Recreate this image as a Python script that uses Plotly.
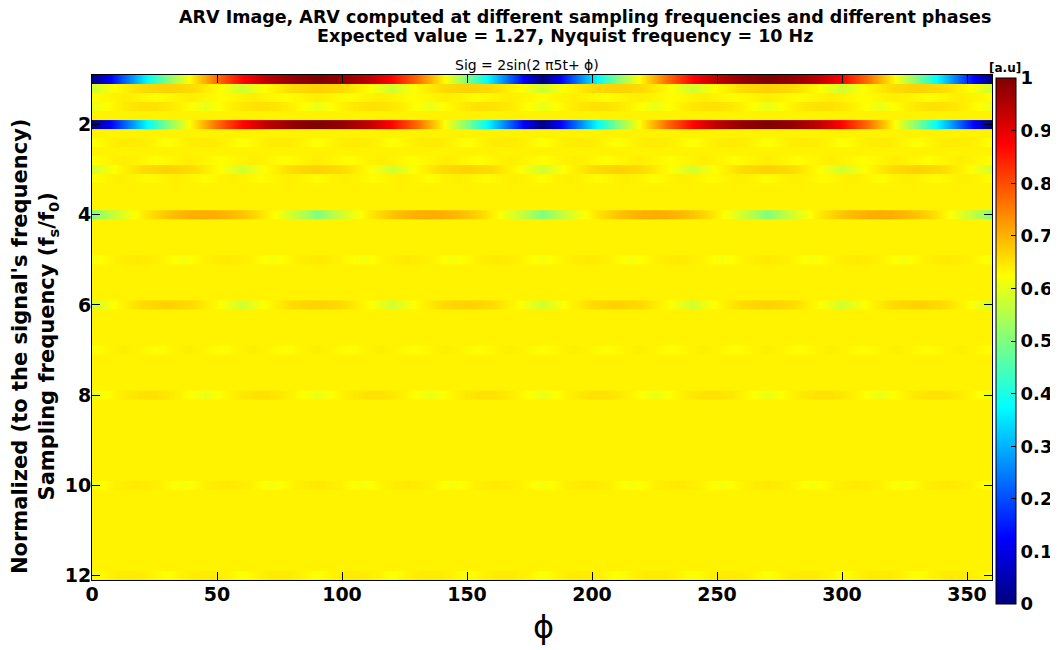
import plotly.graph_objects as go

# ---------------- data ----------------
background = 0.637  # uniform yellow level between the stripes

phase_5 = list(range(0, 361, 5))
phase_9 = list(range(0, 361, 9))
phase_10 = list(range(0, 361, 10))
phase_p257 = [0, 12.9, 25.7, 38.6, 51.4, 64.3, 77.1, 90, 102.9, 115.7, 128.6, 141.4,
              154.3, 167.1, 180, 192.9, 205.7, 218.6, 231.4, 244.3, 257.1, 270, 282.9,
              295.7, 308.6, 321.4, 334.3, 347.1, 360]
phase_p225 = [0, 11.25, 22.5, 33.75, 45, 56.25, 67.5, 78.75, 90, 101.25, 112.5, 123.75,
              135, 146.25, 157.5, 168.75, 180, 191.25, 202.5, 213.75, 225, 236.25, 247.5,
              258.75, 270, 281.25, 292.5, 303.75, 315, 326.25, 337.5, 348.75, 360]

row_1 = [0.00, 0.17, 0.34, 0.50, 0.64, 0.77, 0.87, 0.94, 0.98, 1.00, 0.98, 0.94, 0.87,
         0.77, 0.64, 0.50, 0.34, 0.17, 0.00, 0.17, 0.34, 0.50, 0.64, 0.77, 0.87, 0.94,
         0.98, 1.00, 0.98, 0.94, 0.87, 0.77, 0.64, 0.50, 0.34, 0.17, 0.00]
row_2 = [0.00, 0.17, 0.34, 0.50, 0.64, 0.77, 0.87, 0.94, 0.98, 1.00, 0.98, 0.94, 0.87,
         0.77, 0.64, 0.50, 0.34, 0.17, 0.00, 0.17, 0.34, 0.50, 0.64, 0.77, 0.87, 0.94,
         0.98, 1.00, 0.98, 0.94, 0.87, 0.77, 0.64, 0.50, 0.34, 0.17, 0.00]
row_1_2 = [0.58, 0.63, 0.66, 0.67, 0.66, 0.63,
           0.58, 0.63, 0.66, 0.67, 0.66, 0.63,
           0.58, 0.63, 0.66, 0.67, 0.66, 0.63,
           0.58, 0.63, 0.66, 0.67, 0.66, 0.63,
           0.58, 0.63, 0.66, 0.67, 0.66, 0.63,
           0.58, 0.63, 0.66, 0.67, 0.66, 0.63,
           0.58]
row_3 = [0.58, 0.63, 0.66, 0.67, 0.66, 0.63,
         0.58, 0.63, 0.66, 0.67, 0.66, 0.63,
         0.58, 0.63, 0.66, 0.67, 0.66, 0.63,
         0.58, 0.63, 0.66, 0.67, 0.66, 0.63,
         0.58, 0.63, 0.66, 0.67, 0.66, 0.63,
         0.58, 0.63, 0.66, 0.67, 0.66, 0.63,
         0.58]
row_6 = [0.58, 0.63, 0.66, 0.67, 0.66, 0.63,
         0.58, 0.63, 0.66, 0.67, 0.66, 0.63,
         0.58, 0.63, 0.66, 0.67, 0.66, 0.63,
         0.58, 0.63, 0.66, 0.67, 0.66, 0.63,
         0.58, 0.63, 0.66, 0.67, 0.66, 0.63,
         0.58, 0.63, 0.66, 0.67, 0.66, 0.63,
         0.58]
row_4 = [0.500, 0.542, 0.579, 0.612, 0.641, 0.664, 0.683, 0.696, 0.704,
         0.707, 0.704, 0.696, 0.683, 0.664, 0.641, 0.612, 0.579, 0.542,
         0.500, 0.542, 0.579, 0.612, 0.641, 0.664, 0.683, 0.696, 0.704,
         0.707, 0.704, 0.696, 0.683, 0.664, 0.641, 0.612, 0.579, 0.542,
         0.500, 0.542, 0.579, 0.612, 0.641, 0.664, 0.683, 0.696, 0.704,
         0.707, 0.704, 0.696, 0.683, 0.664, 0.641, 0.612, 0.579, 0.542,
         0.500, 0.542, 0.579, 0.612, 0.641, 0.664, 0.683, 0.696, 0.704,
         0.707, 0.704, 0.696, 0.683, 0.664, 0.641, 0.612, 0.579, 0.542,
         0.500]
row_1_6 = [0.604, 0.623, 0.638, 0.648, 0.653, 0.653, 0.648, 0.638, 0.623,
           0.604, 0.623, 0.638, 0.648, 0.653, 0.653, 0.648, 0.638, 0.623,
           0.604, 0.623, 0.638, 0.648, 0.653, 0.653, 0.648, 0.638, 0.623,
           0.604, 0.623, 0.638, 0.648, 0.653, 0.653, 0.648, 0.638, 0.623,
           0.604, 0.623, 0.638, 0.648, 0.653, 0.653, 0.648, 0.638, 0.623,
           0.604, 0.623, 0.638, 0.648, 0.653, 0.653, 0.648, 0.638, 0.623,
           0.604, 0.623, 0.638, 0.648, 0.653, 0.653, 0.648, 0.638, 0.623,
           0.604, 0.623, 0.638, 0.648, 0.653, 0.653, 0.648, 0.638, 0.623,
           0.604]
row_8 = [0.604, 0.623, 0.638, 0.648, 0.653, 0.653, 0.648, 0.638, 0.623,
         0.604, 0.623, 0.638, 0.648, 0.653, 0.653, 0.648, 0.638, 0.623,
         0.604, 0.623, 0.638, 0.648, 0.653, 0.653, 0.648, 0.638, 0.623,
         0.604, 0.623, 0.638, 0.648, 0.653, 0.653, 0.648, 0.638, 0.623,
         0.604, 0.623, 0.638, 0.648, 0.653, 0.653, 0.648, 0.638, 0.623,
         0.604, 0.623, 0.638, 0.648, 0.653, 0.653, 0.648, 0.638, 0.623,
         0.604, 0.623, 0.638, 0.648, 0.653, 0.653, 0.648, 0.638, 0.623,
         0.604, 0.623, 0.638, 0.648, 0.653, 0.653, 0.648, 0.638, 0.623,
         0.604]
row_2_4 = [0.622, 0.634, 0.642, 0.644, 0.642, 0.634,
           0.622, 0.634, 0.642, 0.644, 0.642, 0.634,
           0.622, 0.634, 0.642, 0.644, 0.642, 0.634,
           0.622, 0.634, 0.642, 0.644, 0.642, 0.634,
           0.622, 0.634, 0.642, 0.644, 0.642, 0.634,
           0.622, 0.634, 0.642, 0.644, 0.642, 0.634,
           0.622, 0.634, 0.642, 0.644, 0.642, 0.634,
           0.622, 0.634, 0.642, 0.644, 0.642, 0.634,
           0.622, 0.634, 0.642, 0.644, 0.642, 0.634,
           0.622, 0.634, 0.642, 0.644, 0.642, 0.634,
           0.622, 0.634, 0.642, 0.644, 0.642, 0.634,
           0.622, 0.634, 0.642, 0.644, 0.642, 0.634,
           0.622]
row_12 = [0.622, 0.634, 0.642, 0.644, 0.642, 0.634,
          0.622, 0.634, 0.642, 0.644, 0.642, 0.634,
          0.622, 0.634, 0.642, 0.644, 0.642, 0.634,
          0.622, 0.634, 0.642, 0.644, 0.642, 0.634,
          0.622, 0.634, 0.642, 0.644, 0.642, 0.634,
          0.622, 0.634, 0.642, 0.644, 0.642, 0.634,
          0.622, 0.634, 0.642, 0.644, 0.642, 0.634,
          0.622, 0.634, 0.642, 0.644, 0.642, 0.634,
          0.622, 0.634, 0.642, 0.644, 0.642, 0.634,
          0.622, 0.634, 0.642, 0.644, 0.642, 0.634,
          0.622, 0.634, 0.642, 0.644, 0.642, 0.634,
          0.622, 0.634, 0.642, 0.644, 0.642, 0.634,
          0.622]
row_5 = [0.616, 0.639, 0.647, 0.639, 0.616, 0.639, 0.647, 0.639,
         0.616, 0.639, 0.647, 0.639, 0.616, 0.639, 0.647, 0.639,
         0.616, 0.639, 0.647, 0.639, 0.616, 0.639, 0.647, 0.639,
         0.616, 0.639, 0.647, 0.639, 0.616, 0.639, 0.647, 0.639,
         0.616, 0.639, 0.647, 0.639, 0.616, 0.639, 0.647, 0.639,
         0.616]
row_10 = [0.616, 0.639, 0.647, 0.639, 0.616, 0.639, 0.647, 0.639,
          0.616, 0.639, 0.647, 0.639, 0.616, 0.639, 0.647, 0.639,
          0.616, 0.639, 0.647, 0.639, 0.616, 0.639, 0.647, 0.639,
          0.616, 0.639, 0.647, 0.639, 0.616, 0.639, 0.647, 0.639,
          0.616, 0.639, 0.647, 0.639, 0.616, 0.639, 0.647, 0.639,
          0.616]
row_1_4 = [0.626, 0.642, 0.626, 0.642, 0.626, 0.642, 0.626, 0.642, 0.626, 0.642,
           0.626, 0.642, 0.626, 0.642, 0.626, 0.642, 0.626, 0.642, 0.626, 0.642,
           0.626, 0.642, 0.626, 0.642, 0.626, 0.642, 0.626, 0.642, 0.626]
row_2_8 = [0.626, 0.642, 0.626, 0.642, 0.626, 0.642, 0.626, 0.642, 0.626, 0.642,
           0.626, 0.642, 0.626, 0.642, 0.626, 0.642, 0.626, 0.642, 0.626, 0.642,
           0.626, 0.642, 0.626, 0.642, 0.626, 0.642, 0.626, 0.642, 0.626]
row_7 = [0.626, 0.642, 0.626, 0.642, 0.626, 0.642, 0.626, 0.642, 0.626, 0.642,
         0.626, 0.642, 0.626, 0.642, 0.626, 0.642, 0.626, 0.642, 0.626, 0.642,
         0.626, 0.642, 0.626, 0.642, 0.626, 0.642, 0.626, 0.642, 0.626]
row_3_2 = [0.628, 0.641, 0.628, 0.641, 0.628, 0.641, 0.628, 0.641, 0.628, 0.641,
           0.628, 0.641, 0.628, 0.641, 0.628, 0.641, 0.628, 0.641, 0.628, 0.641,
           0.628, 0.641, 0.628, 0.641, 0.628, 0.641, 0.628, 0.641, 0.628, 0.641,
           0.628, 0.641, 0.628]

freq_step = 0.2
freq_min, freq_max = 1, 12
stripes = [
    (1.0, phase_10, row_1), (1.2, phase_10, row_1_2), (1.4, phase_p257, row_1_4),
    (1.6, phase_5, row_1_6), (2.0, phase_10, row_2), (2.4, phase_5, row_2_4),
    (2.8, phase_p257, row_2_8), (3.0, phase_10, row_3), (3.2, phase_p225, row_3_2),
    (4.0, phase_5, row_4), (5.0, phase_9, row_5), (6.0, phase_10, row_6),
    (7.0, phase_p257, row_7), (8.0, phase_5, row_8), (10.0, phase_9, row_10),
    (12.0, phase_5, row_12),
]

x_ticks = [0, 50, 100, 150, 200, 250, 300, 350]
y_ticks = [2, 4, 6, 8, 10, 12]
cbar_ticks = [0, 0.1, 0.2, 0.3, 0.4, 0.5, 0.6, 0.7, 0.8, 0.9, 1]

# ---------------- figure ----------------
jet = [[0, 'rgb(0,0,128)'], [0.125, 'rgb(0,0,255)'], [0.375, 'rgb(0,255,255)'],
       [0.625, 'rgb(255,255,0)'], [0.875, 'rgb(255,0,0)'], [1, 'rgb(128,0,0)']]
FONT = 'DejaVu Sans, Liberation Sans, Arial, sans-serif'

fig = go.Figure()
half = freq_step / 2
fig.add_trace(go.Heatmap(x=[0, 360], y=[freq_min - half, freq_max + half],
                         z=[[background]], coloraxis='coloraxis', hoverinfo='skip'))
for r, ph, vals in stripes:
    fig.add_trace(go.Heatmap(x=ph, y=[r - half / 2, r + half / 2], z=[vals, vals],
                             coloraxis='coloraxis', zsmooth='best', hoverinfo='skip'))

# The page body has an 8 px margin, so the figure is 8 px smaller and shifted.
OFF = 8
W, H = 1058 - OFF, 650 - OFF
L, T = 92 - OFF, 75 - OFF
R, B = W - (992 - OFF), H - (580 - OFF)
pw, ph_ = W - L - R, H - T - B


def px(xp):
    return (xp - OFF - L) / pw


def py(yp):
    return (H - B - (yp - OFF)) / ph_


tickfont = dict(size=19, family=FONT, weight='bold', color='black')

fig.update_layout(
    width=W, height=H, margin=dict(l=L, r=R, t=T, b=B, autoexpand=False),
    paper_bgcolor='white', plot_bgcolor='white', showlegend=False,
    font=dict(family=FONT, color='black'),
    coloraxis=dict(
        colorscale=jet, cmin=0, cmax=1,
        colorbar=dict(x=px(996), xanchor='left', xpad=0, thickness=20,
                      lenmode='pixels', len=526, y=py(341), yanchor='middle', ypad=0,
                      outlinecolor='black', outlinewidth=1,
                      tickvals=cbar_ticks, ticks='inside', ticklen=5, tickcolor='black',
                      tickfont=dict(size=18, family=FONT, weight='bold', color='black'))),
    xaxis=dict(range=[0, 360], tickvals=x_ticks, ticks='inside', ticklen=8,
               tickcolor='black', showline=True, linecolor='black', linewidth=1,
               mirror='allticks', showgrid=False, zeroline=False, tickfont=tickfont,
               ticklabelstandoff=-3),
    yaxis=dict(range=[freq_max + half, freq_min - half], tickvals=y_ticks, ticks='inside',
               ticklen=8, tickcolor='black', showline=True, linecolor='black', linewidth=1,
               mirror='allticks', showgrid=False, zeroline=False, tickfont=tickfont,
               ticklabelstandoff=-4),
)

annots = [
    dict(text='ARV Image, ARV computed at different sampling frequencies and different phases',
         x=px(585), y=py(17), size=17.5, bold=True),
    dict(text='Expected value = 1.27, Nyquist frequency = 10 Hz',
         x=px(565), y=py(36), size=17.5, bold=True),
    dict(text='Sig = 2sin(2 π5t+ ϕ)', x=px(527), y=py(65), size=14, bold=False),
    dict(text='[a.u]', x=px(1005), y=py(68), size=12, bold=True),
    dict(text='ϕ', x=px(543), y=py(627), size=32, bold=False),
]
for a in annots:
    fig.add_annotation(text=a['text'], x=a['x'], y=a['y'], xref='paper', yref='paper',
                       xanchor='center', yanchor='middle', showarrow=False,
                       font=dict(size=a['size'], family=FONT, color='black',
                                 weight='bold' if a['bold'] else 'normal'))

fig.add_annotation(text="Normalized (to the signal's frequency)<br>Sampling frequency (f<sub>s</sub>/f<sub>0</sub>)",
                   x=px(35), y=py(347), xref='paper', yref='paper', textangle=-90,
                   xanchor='center', yanchor='middle', showarrow=False,
                   font=dict(size=21, family=FONT, color='black', weight='bold'))

fig.write_html('out.html')
